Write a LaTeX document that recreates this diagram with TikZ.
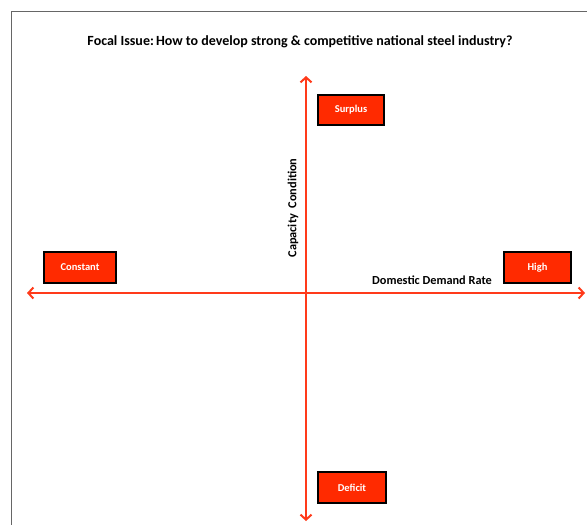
\documentclass[tikz,border=0pt]{standalone}
\usepackage{fontspec}
\setmainfont{Carlito}
\usetikzlibrary{arrows.meta}
\definecolor{axisred}{HTML}{FF3A1A}
\definecolor{boxred}{HTML}{FF2A00}
\definecolor{framegray}{HTML}{666666}
\tikzset{
  axis/.style={draw=axisred, line width=2pt, {Straight Barb[length=5pt,width=11pt,line width=2pt]}-{Straight Barb[length=5pt,width=11pt,line width=2pt]}},
  redbox/.style={draw=black, line width=2pt, fill=boxred, text=white, font=\bfseries\fontsize{10.5}{12}\selectfont, inner sep=0pt, anchor=north west},
  lbl/.style={font=\bfseries\fontsize{12.3}{14}\selectfont, text=black, inner sep=0pt}
}
\begin{document}
\begin{tikzpicture}[x=1pt,y=-1pt]
\useasboundingbox (0,0) rectangle (587,525);
% frame
\draw[framegray, line width=1pt] (11,525) -- (11,11) -- (587,11);
% title
\node[font=\bfseries\fontsize{14}{16}\selectfont, inner sep=0pt] (title) at (300,42) {Focal Issue:\hspace{0.15em}How to develop strong \& competitive national steel industry?};
% axes
\coordinate (top) at (306,76);
\coordinate (bottom) at (306,521);
\coordinate (left) at (27,293);
\coordinate (right) at (585,293);
\draw[axis] (bottom) -- (top);
\draw[axis] (left) -- (right);
% boxes
\node[redbox, minimum width=66pt, minimum height=30pt] (surplus) at (317,94) {Surplus};
\node[redbox, minimum width=72pt, minimum height=31pt] (constant) at (43,251) {Constant};
\node[redbox, minimum width=67pt, minimum height=31pt] (high) at (503,251) {High};
\node[redbox, minimum width=68pt, minimum height=31pt] (deficit) at (317,471) {Deficit};
% axis labels
\node[lbl] (demand) at (432,280) {Domestic Demand Rate};
\node[lbl, rotate=90] (capacity) at (293,208) {Capacity\ \ Condition};
\end{tikzpicture}
\end{document}
